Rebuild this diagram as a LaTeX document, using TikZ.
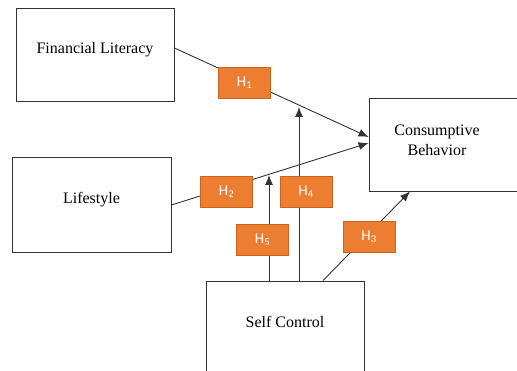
\documentclass[tikz,border=0pt]{standalone}
\usepackage{fontspec}
\setmainfont{Liberation Serif}
\newfontfamily\hfont{Carlito}
\usetikzlibrary{arrows.meta}
\definecolor{hfill}{HTML}{ED7D31}
\definecolor{hdraw}{HTML}{C9651F}
\definecolor{lgray}{HTML}{333333}
\begin{document}
\begin{tikzpicture}[x=1pt,y=-1pt,
  varbox/.style={draw=lgray,line width=0.9pt,rectangle,inner sep=0pt},
  vartext/.style={font=\fontsize{16}{20}\selectfont,align=center,inner sep=0pt},
  hbox/.style={fill=hfill,draw=hdraw,line width=0.8pt,rectangle,inner sep=0pt,
    minimum width=52pt,minimum height=31pt,text=white,font=\hfont\fontsize{15}{17}\selectfont},
  conn/.style={draw=lgray,line width=0.9pt},
  arr/.style={conn,-{Latex[length=10pt,width=8pt]}}]
\useasboundingbox (0,0) rectangle (517,371);
% variable boxes
\node[varbox,minimum width=158pt,minimum height=93pt] (FL) at (95,54.5) {};
\node[varbox,minimum width=159pt,minimum height=95pt] (LS) at (91.5,204.5) {};
\node[varbox,minimum width=180pt,minimum height=93pt] (CB) at (459,144.5) {};
\node[varbox,minimum width=158pt,minimum height=100pt] (SC) at (285,331) {};
\node[vartext] (FLt) at (95,50) {Financial Literacy};
\node[vartext] (LSt) at (91.5,200) {Lifestyle};
\node[vartext] (CBt) at (437,140) {Consumptive\\Behavior};
\node[vartext] (SCt) at (285,322) {Self Control};
% free ends of the moderating arrows
\coordinate (t4) at (299,107);
\coordinate (t5) at (269,175);
% connectors
\draw[arr] ([yshift=6.5pt]FL.east) -- ([yshift=7.5pt]CB.west);
\draw[arr] ([yshift=-0.5pt]LS.east) -- ([yshift=1.5pt]CB.west);
\draw[arr] (SC.north -| t4) -- (t4);
\draw[arr] (SC.north -| t5) -- (t5);
\draw[arr] ([xshift=38pt]SC.north) -- ([xshift=-49pt]CB.south);
% hypothesis labels
\node[hbox] (H1) at (244.5,82.5) {H\textsubscript{1}};
\node[hbox] (H2) at (226.5,192) {H\textsubscript{2}};
\node[hbox] (H4) at (306,192) {H\textsubscript{4}};
\node[hbox] (H5) at (262.5,240) {H\textsubscript{5}};
\node[hbox] (H3) at (369,236.5) {H\textsubscript{3}};
\end{tikzpicture}
\end{document}
